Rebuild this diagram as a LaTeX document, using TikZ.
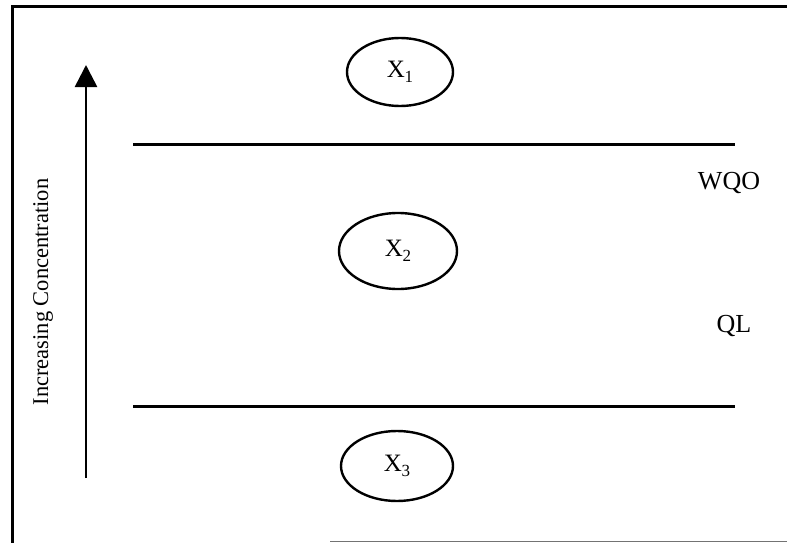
\documentclass[tikz,border=0pt]{standalone}
\usepackage{fontspec}
\setmainfont{Liberation Serif}
\usetikzlibrary{arrows.meta,shapes.geometric}
\newcommand{\xsub}[1]{X\kern-0.5pt\raisebox{-4.5pt}{\fontsize{17}{18}\selectfont #1}}
\begin{document}
\begin{tikzpicture}[x=1pt,y=-1pt,
  frame/.style={line width=3pt},
  level/.style={line width=3pt},
  state/.style={draw,ellipse,line width=2.4pt,inner sep=0pt,font=\fontsize{25}{27}\selectfont},
  lbl/.style={font=\fontsize{26}{28}\selectfont,inner sep=0pt},
  axis/.style={line width=2.6pt,-{Triangle[length=22pt,width=22pt]}}
]
\useasboundingbox (0,0) rectangle (787,543);
\draw[frame] (795,7) -- (12,7) -- (12,550);
\draw[line width=1.5pt,black!55] (330,541.5) -- (795,541.5);
% axis
\coordinate (abot) at (86,478);
\coordinate (atop) at (86,65);
\draw[axis] (abot) -- (atop);
\node[rotate=90,font=\fontsize{22.5}{24}\selectfont] (axl) at (43,292) {Increasing Concentration};
% levels
\coordinate (l1a) at (133,144);
\coordinate (l1b) at (735,144);
\coordinate (l2a) at (133,406);
\coordinate (l2b) at (735,406);
\draw[level] (l1a) -- (l1b);
\draw[level] (l2a) -- (l2b);
\node[lbl] (wqo) at (729,183) {WQO};
\node[lbl] (ql) at (734,326) {QL};
% states
\node[state,minimum width=106pt,minimum height=68pt] (x1) at (400,72) {\xsub{1}};
\node[state,minimum width=118pt,minimum height=76pt] (x2) at (398,251) {\xsub{2}};
\node[state,minimum width=112pt,minimum height=70pt] (x3) at (397,466) {\xsub{3}};
\end{tikzpicture}
\end{document}
